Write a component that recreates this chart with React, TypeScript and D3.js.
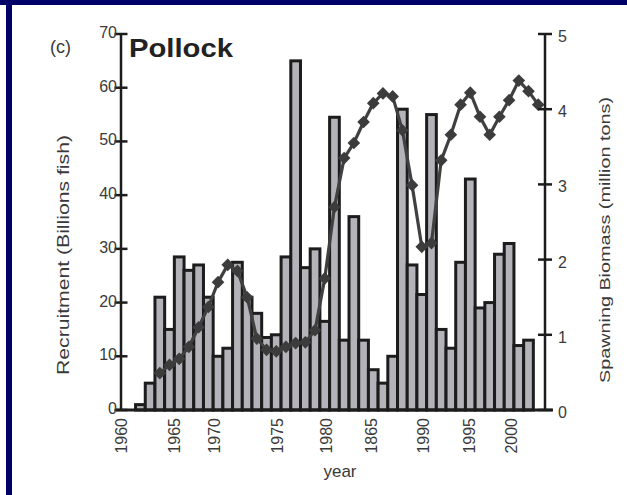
import React from 'react'
import * as d3 from 'd3'

// recruitment bars (billions of fish), one per year
const recruitYears = [
  1961, 1962, 1963, 1964, 1965, 1966, 1967, 1968, 1969, 1970,
  1971, 1972, 1973, 1974, 1975, 1976, 1977, 1978, 1979, 1980,
  1981, 1982, 1983, 1984, 1985, 1986, 1987, 1988, 1989, 1990,
  1991, 1992, 1993, 1994, 1995, 1996, 1997, 1998, 1999, 2000, 2001,
]
const recruitment = [
  1, 5, 21, 15, 28.5, 26, 27, 21, 10, 11.5,
  27.5, 21, 18, 13.5, 14, 28.5, 65, 26.5, 30, 16.5,
  54.5, 13, 36, 13, 7.5, 5, 10, 56, 27, 21.5,
  55, 15, 11.5, 27.5, 43, 19, 20, 29, 31, 12, 13,
]

// spawning biomass (million tons)
const biomassYears = [
  1963, 1964, 1965, 1966, 1967, 1968, 1969, 1970, 1971, 1972,
  1973, 1974, 1975, 1976, 1977, 1978, 1979, 1980, 1981, 1982,
  1983, 1984, 1985, 1986, 1987, 1988, 1989, 1990, 1991, 1992,
  1993, 1994, 1995, 1996, 1997, 1998, 1999, 2000, 2001, 2002,
]
const biomass = [
  0.49, 0.6, 0.68, 0.84, 1.1, 1.37, 1.7, 1.93, 1.85, 1.5,
  0.95, 0.8, 0.78, 0.84, 0.89, 0.9, 1.06, 1.75, 2.7, 3.35,
  3.55, 3.83, 4.08, 4.21, 4.17, 3.72, 2.99, 2.17, 2.22, 3.32,
  3.66, 4.06, 4.22, 3.9, 3.66, 3.9, 4.12, 4.38, 4.24, 4.06,
]

// year labels as printed, and where on the year axis they sit
const yearLabels = ['1960', '1965', '1970', '1975', '1980', '1865', '1990', '1995', '2000']
const yearLabelAt = [1959, 1964.5, 1968.6, 1975.1, 1980.1, 1984.8, 1990.1, 1994.9, 1999.2]

const leftTicks = [0, 10, 20, 30, 40, 50, 60, 70]
const rightTicks = [0, 1, 2, 3, 4, 5]

const font = 'Liberation Sans, Arial, Helvetica, sans-serif'

export default function App() {
  const width = 627
  const height = 495

  const x = d3.scaleLinear().domain([1959, 2002.7]).range([121, 545])
  const yL = d3.scaleLinear().domain([0, 70]).range([410, 34])
  const yR = d3.scaleLinear().domain([0, 5]).range([410, 34])
  const bw = x(1) - x(0)

  const line = d3
    .line<number>()
    .x((d, i) => x(biomassYears[i]))
    .y(d => yR(d))
  const diamond = d3.symbol(d3.symbolSquare, 80)()

  const x0 = x.range()[0]
  const x1 = x.range()[1]

  return (
    <svg
      width={width}
      height={height}
      style={{ position: 'absolute', left: 0, top: 0, background: '#fff' }}
    >
      <rect x={0} y={0} width={width} height={5} fill="#000068" />
      <rect x={6} y={0} width={6} height={height} fill="#000068" />

      {/* bars */}
      <g>
        {recruitment.map((v, i) => (
          <rect
            key={recruitYears[i]}
            x={x(recruitYears[i]) - bw / 2}
            y={yL(v)}
            width={bw}
            height={yL(0) - yL(v)}
            fill="#b3b3b9"
            stroke="#1c1c1c"
            strokeWidth={3}
          />
        ))}
      </g>

      {/* biomass line */}
      <path d={line(biomass) || ''} fill="none" stroke="#404040" strokeWidth={3.2} />
      {biomass.map((v, i) => (
        <path
          key={biomassYears[i]}
          d={diamond || ''}
          transform={`translate(${x(biomassYears[i])},${yR(v)}) rotate(45)`}
          fill="#3c3c3c"
        />
      ))}

      {/* axes */}
      <g stroke="#1c1c1c" strokeWidth={2.5}>
        <line x1={x0} x2={x0} y1={yL(70)} y2={yL(0)} />
        <line x1={x1} x2={x1} y1={yR(5)} y2={yR(0)} />
        <line x1={x0 - 5} x2={x1 + 8} y1={yL(0)} y2={yL(0)} strokeWidth={3.2} />
        {leftTicks.map(t => (
          <line key={t} x1={x0 - 6.5} x2={x0 + 6.5} y1={yL(t)} y2={yL(t)} />
        ))}
        {rightTicks.map(t => (
          <line key={t} x1={x1 - 7} x2={x1 + 7} y1={yR(t)} y2={yR(t)} />
        ))}
      </g>

      <g fontFamily={font} fontSize={16} fill="#3a3a3a">
        {leftTicks.map(t => (
          <text key={t} x={x0 - 4} y={yL(t) + 4} textAnchor="end">
            {t}
          </text>
        ))}
        {rightTicks.map(t => (
          <text key={t} x={x1 + 13} y={yR(t) + 8}>
            {t}
          </text>
        ))}
        {yearLabels.map((s, i) => (
          <text
            key={s}
            transform={`translate(${x(yearLabelAt[i]) + 6},418) rotate(-90)`}
            textAnchor="end"
          >
            {s}
          </text>
        ))}
        <text x={340} y={477} textAnchor="middle" fontSize={17}>
          year
        </text>
        <text
          transform="translate(69,255) rotate(-90)"
          textAnchor="middle"
          fontSize={17}
          textLength={240}
          lengthAdjust="spacingAndGlyphs"
        >
          Recruitment (Billions fish)
        </text>
        <text
          transform="translate(610,240) rotate(-90)"
          textAnchor="middle"
          fontSize={15}
          textLength={286}
          lengthAdjust="spacingAndGlyphs"
        >
          Spawning Biomass (million tons)
        </text>
        <text x={50} y={53} fontSize={18}>
          (c)
        </text>
      </g>
      <text
        x={129}
        y={57}
        fontFamily={font}
        fontSize={26}
        fontWeight="bold"
        fill="#222"
        textLength={104}
        lengthAdjust="spacingAndGlyphs"
      >
        Pollock
      </text>
    </svg>
  )
}
